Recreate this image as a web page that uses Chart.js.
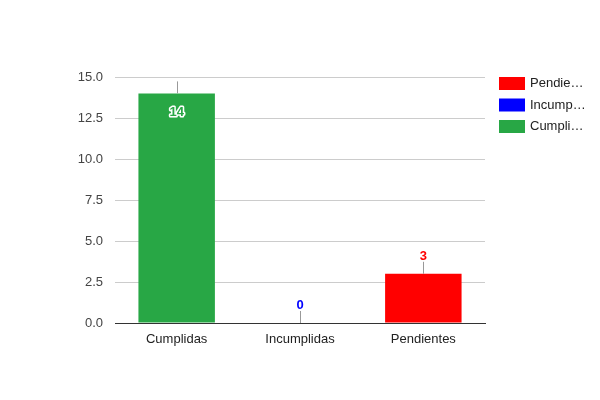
<!DOCTYPE html>
<html><head><meta charset="utf-8">
<script src="https://cdn.jsdelivr.net/npm/chart.js@4"></script>
<style>html,body{margin:0;padding:0;background:#fff}#w{width:600px;height:400px}</style>
</head><body><div id="w"><canvas id="c" width="600" height="400"></canvas></div>
<script>
const categories = ["Cumplidas", "Incumplidas", "Pendientes"];
const values = [14, 0, 3];
const barColors = ["#28a745", "#0000ff", "#ff0000"];
const legendLabels = ["Pendie…", "Incump…", "Cumpli…"];
const legendColors = ["#ff0000", "#0000ff", "#28a745"];
const yTicks = [0, 2.5, 5, 7.5, 10, 12.5, 15];

const FONT = "'Liberation Sans', Arial, sans-serif";

const annot = {
  id: 'annot',
  afterDatasetsDraw(chart) {
    const ctx = chart.ctx, x = chart.scales.x, y = chart.scales.y;
    ctx.save();
    values.forEach((v, i) => {
      const px = x.getPixelForValue(i);
      const top = y.getPixelForValue(v);
      ctx.strokeStyle = '#999'; ctx.lineWidth = 1;
      ctx.beginPath(); ctx.moveTo(Math.round(px) + 0.5, top); ctx.lineTo(Math.round(px) + 0.5, top - 12); ctx.stroke();
      ctx.font = "bold 13px " + FONT;
      ctx.textAlign = 'center'; ctx.textBaseline = 'middle';
      const inside = top - chart.chartArea.top < 20;
      if (inside) {
        ctx.lineWidth = 3; ctx.strokeStyle = '#fff'; ctx.lineJoin = 'round';
        ctx.strokeText(String(v), px, top + 19);
        ctx.fillStyle = barColors[i]; ctx.fillText(String(v), px, top + 19);
      } else {
        ctx.fillStyle = barColors[i];
        ctx.fillText(String(v), px, top - 17.5);
      }
    });
    // legend
    ctx.font = "13px " + FONT; ctx.textAlign = 'left'; ctx.textBaseline = 'middle';
    legendLabels.forEach((t, i) => {
      const yy = 77 + i * 21.5;
      ctx.fillStyle = legendColors[i];
      ctx.fillRect(499, yy, 26, 13);
      ctx.fillStyle = '#222';
      ctx.fillText(t, 530, yy + 6.5);
    });
    ctx.restore();
  }
};

new Chart(document.getElementById('c'), {
  type: 'bar',
  data: {
    labels: categories,
    datasets: [{ data: values, backgroundColor: barColors, barPercentage: 0.62, categoryPercentage: 1.0 }]
  },
  options: {
    responsive: false, animation: false, devicePixelRatio: 1,
    layout: { padding: { top: 77, right: 115, left: 0, bottom: 0 } },
    plugins: { legend: { display: false }, tooltip: { enabled: false } },
    scales: {
      x: {
        grid: { display: false, drawTicks: false },
        border: { display: true, color: '#333', width: 1 },
        ticks: { color: '#222', font: { family: FONT, size: 13 }, padding: 9 },
        afterFit(s) { s.height = 77; }
      },
      y: {
        min: 0, max: 15,
        afterBuildTicks(s) { s.ticks = yTicks.map(v => ({ value: v })); },
        grid: { color: c => c.tick && c.tick.value === 0 ? '#333' : '#ccc', drawTicks: false },
        border: { display: false },
        ticks: { color: '#444', font: { family: FONT, size: 13 }, padding: 12, callback: v => Number(v).toFixed(1) },
        afterFit(s) { s.width = 115; }
      }
    }
  },
  plugins: [annot]
});
</script></body></html>
